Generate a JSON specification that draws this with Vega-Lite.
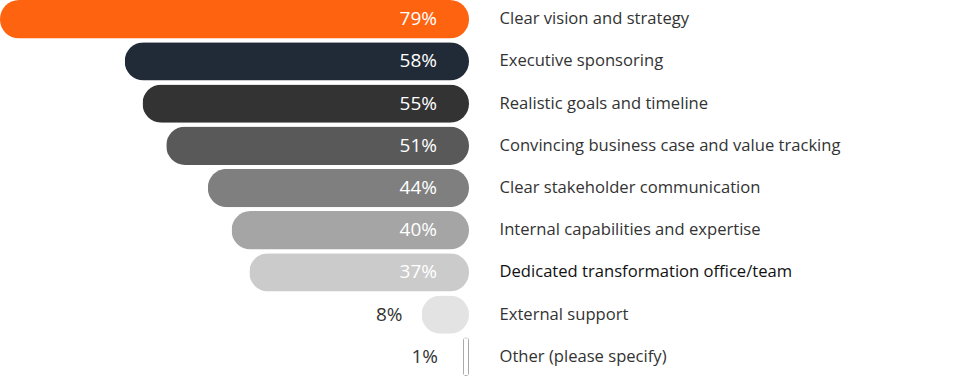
{
  "$schema": "https://vega.github.io/schema/vega-lite/v6.json",
  "width": 469,
  "height": 376,
  "padding": {"left": 0, "top": 0, "right": 502, "bottom": 0},
  "autosize": "none",
  "background": "white",
  "config": {"view": {"stroke": null}, "font": "Open Sans"},
  "data": {"values": [
    {"item": "Clear vision and strategy", "value": 79, "color": "#fe6310"},
    {"item": "Executive sponsoring", "value": 58, "color": "#212b37"},
    {"item": "Realistic goals and timeline", "value": 55, "color": "#333333"},
    {"item": "Convincing business case and value tracking", "value": 51, "color": "#595959"},
    {"item": "Clear stakeholder communication", "value": 44, "color": "#7f7f7f"},
    {"item": "Internal capabilities and expertise", "value": 40, "color": "#a5a5a5"},
    {"item": "Dedicated transformation office/team", "value": 37, "color": "#cbcbcb"},
    {"item": "External support", "value": 8, "color": "#e3e3e3"},
    {"item": "Other (please specify)", "value": 1, "color": "#ffffff"}
  ]},
  "transform": [{"calculate": "datum.value + '%'", "as": "lbl"}],
  "encoding": {
    "y": {
      "field": "item", "type": "nominal", "sort": null,
      "scale": {"paddingInner": 0.09, "paddingOuter": 0},
      "axis": {
        "orient": "right", "title": null, "domain": false, "ticks": false,
        "labelPadding": 30, "labelFontSize": 16.6,
        "labelColor": {"condition": {"test": "datum.value == 'Dedicated transformation office/team'", "value": "#111111"}, "value": "#333333"},
        "labelFont": "Open Sans", "labelLimit": 500
      }
    }
  },
  "layer": [
    {
      "mark": {"type": "bar", "cornerRadius": 19, "strokeWidth": 1.5},
      "encoding": {
        "x": {"field": "value", "type": "quantitative", "scale": {"domain": [0, 79], "reverse": true, "nice": false}, "axis": null},
        "color": {"field": "color", "type": "nominal", "scale": null},
        "stroke": {"condition": {"test": "datum.value < 2", "value": "#8a8a8a"}, "value": null}
      }
    },
    {
      "transform": [{"filter": "datum.value >= 10"}],
      "mark": {"type": "text", "align": "right", "baseline": "middle", "dx": -32, "fontSize": 19, "color": "white", "font": "Open Sans"},
      "encoding": {
        "x": {"datum": 0, "type": "quantitative"},
        "text": {"field": "lbl"}
      }
    },
    {
      "transform": [{"filter": "datum.value == 1"}],
      "mark": {"type": "text", "align": "right", "baseline": "middle", "dx": -31, "fontSize": 19, "color": "#333333", "font": "Open Sans"},
      "encoding": {
        "x": {"datum": 0, "type": "quantitative"},
        "text": {"field": "lbl"}
      }
    },
    {
      "transform": [{"filter": "datum.value == 8"}],
      "mark": {"type": "text", "align": "right", "baseline": "middle", "dx": -19, "fontSize": 19, "color": "#333333", "font": "Open Sans"},
      "encoding": {
        "x": {"field": "value", "type": "quantitative"},
        "text": {"field": "lbl"}
      }
    }
  ]
}
